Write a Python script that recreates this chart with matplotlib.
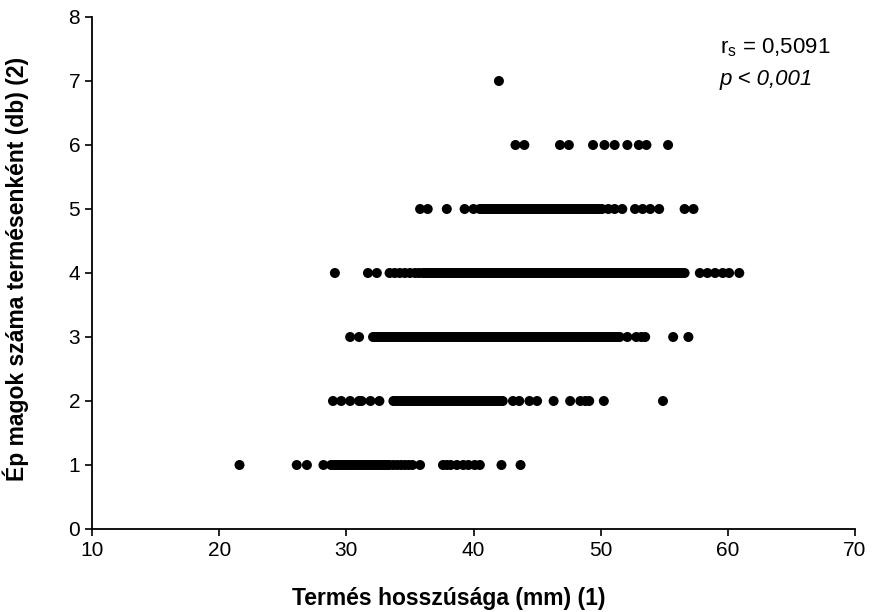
import matplotlib
matplotlib.use("Agg")
import matplotlib.pyplot as plt

plt.rcParams['font.family'] = ['Liberation Sans', 'DejaVu Sans']

# Fruit length (mm) for each count of intact seeds per fruit
x_seed1 = [21.6, 26.1, 26.9, 28.2, 28.8, 29.0, 29.2, 29.4, 29.6, 29.8, 30.0, 30.2,
           30.4, 30.6, 30.8, 31.0, 31.2, 31.4, 31.6, 31.8, 32.0, 32.2, 32.4, 32.6,
           32.8, 33.0, 33.2, 33.4, 33.7, 34.0, 34.3, 34.6, 34.9, 35.2, 35.8,
           37.6, 37.9, 38.2, 38.7, 39.2, 39.6, 40.1, 40.5, 42.2, 43.7]
x_seed2 = [28.95, 29.6, 30.3, 31.0, 31.2, 31.9, 32.6, 33.7, 33.9, 34.1, 34.3, 34.5,
           34.7, 34.9, 35.1, 35.3, 35.5, 35.7, 35.9, 36.1, 36.3, 36.5, 36.7, 36.9,
           37.1, 37.3, 37.5, 37.7, 37.9, 38.1, 38.3, 38.5, 38.7, 38.9, 39.1, 39.3,
           39.5, 39.7, 39.9, 40.1, 40.3, 40.5, 40.7, 40.9, 41.1, 41.3, 41.5, 41.7,
           41.9, 42.1, 42.3, 43.1, 43.6, 44.4, 45.0, 46.3, 47.6, 48.4, 48.8, 49.1,
           50.25, 54.9]
x_seed3 = [30.3, 31.0, 32.1, 32.3, 32.5, 32.7, 32.9, 33.1, 33.3, 33.5, 33.7, 33.9,
           34.1, 34.3, 34.5, 34.7, 34.9, 35.1, 35.3, 35.5, 35.7, 35.9, 36.1, 36.3,
           36.5, 36.7, 36.9, 37.1, 37.3, 37.5, 37.7, 37.9, 38.1, 38.3, 38.5, 38.7,
           38.9, 39.1, 39.3, 39.5, 39.7, 39.9, 40.1, 40.3, 40.5, 40.7, 40.9, 41.1,
           41.3, 41.5, 41.7, 41.9, 42.1, 42.3, 42.5, 42.7, 42.9, 43.1, 43.3, 43.5,
           43.7, 43.9, 44.1, 44.3, 44.5, 44.7, 44.9, 45.1, 45.3, 45.5, 45.7, 45.9,
           46.1, 46.3, 46.5, 46.7, 46.9, 47.1, 47.3, 47.5, 47.7, 47.9, 48.1, 48.3,
           48.5, 48.7, 48.9, 49.1, 49.3, 49.5, 49.7, 49.9, 50.1, 50.3, 50.5, 50.7,
           50.9, 51.1, 51.3, 51.5, 52.1, 52.8, 53.2, 53.5, 55.7, 56.9]
x_seed4 = [29.1, 31.7, 32.4, 33.4, 33.8, 34.2, 34.6, 35.0, 35.4, 35.7, 36.0, 36.2,
           36.4, 36.6, 36.8, 37.0, 37.2, 37.4, 37.6, 37.8, 38.0, 38.2, 38.4, 38.6,
           38.8, 39.0, 39.2, 39.4, 39.6, 39.8, 40.0, 40.2, 40.4, 40.6, 40.8, 41.0,
           41.2, 41.4, 41.6, 41.8, 42.0, 42.2, 42.4, 42.6, 42.8, 43.0, 43.2, 43.4,
           43.6, 43.8, 44.0, 44.2, 44.4, 44.6, 44.8, 45.0, 45.2, 45.4, 45.6, 45.8,
           46.0, 46.2, 46.4, 46.6, 46.8, 47.0, 47.2, 47.4, 47.6, 47.8, 48.0, 48.2,
           48.4, 48.6, 48.8, 49.0, 49.2, 49.4, 49.6, 49.8, 50.0, 50.2, 50.4, 50.6,
           50.8, 51.0, 51.2, 51.4, 51.6, 51.8, 52.0, 52.2, 52.4, 52.6, 52.8, 53.0,
           53.2, 53.4, 53.6, 53.8, 54.0, 54.2, 54.4, 54.6, 54.8, 55.0, 55.2, 55.4,
           55.6, 55.8, 56.0, 56.2, 56.4, 56.6, 57.8, 58.4, 59.0, 59.6, 60.1, 60.9]
x_seed5 = [35.8, 36.4, 37.9, 39.3, 40.0, 40.5, 40.7, 40.9, 41.1, 41.3, 41.5, 41.7,
           41.9, 42.1, 42.3, 42.5, 42.7, 42.9, 43.1, 43.3, 43.5, 43.7, 43.9, 44.1,
           44.3, 44.5, 44.7, 44.9, 45.1, 45.3, 45.5, 45.7, 45.9, 46.1, 46.3, 46.5,
           46.7, 46.9, 47.1, 47.3, 47.5, 47.7, 47.9, 48.1, 48.3, 48.5, 48.7, 48.9,
           49.1, 49.3, 49.5, 49.7, 49.9, 50.1, 50.6, 51.1, 51.7, 52.7, 53.3, 53.9,
           54.6, 56.6, 57.3]
x_seed6 = [43.3, 44.0, 46.8, 47.5, 49.4, 50.3, 51.1, 52.1, 53.0, 53.6, 55.3]
x_seed7 = [42.0]

seed_counts = [1, 2, 3, 4, 5, 6, 7]
x_groups = [x_seed1, x_seed2, x_seed3, x_seed4, x_seed5, x_seed6, x_seed7]

x_ticks = [10, 20, 30, 40, 50, 60, 70]
y_ticks = [0, 1, 2, 3, 4, 5, 6, 7, 8]

fig = plt.figure(figsize=(8.72, 6.12), dpi=100)
ax = fig.add_axes([92 / 872, 1 - 529 / 612, (855 - 92) / 872, (529 - 17) / 612])

for n, xs in zip(seed_counts, x_groups):
    ax.scatter(xs, [n] * len(xs), s=52, color='black', edgecolors='none', zorder=3)

ax.set_xlim(10, 70)
ax.set_ylim(0, 8)
ax.set_xticks(x_ticks)
ax.set_yticks(y_ticks)
ax.tick_params(axis='both', labelsize=15, direction='out', length=5, width=1.2,
               color='black', labelcolor='black')
for side in ['top', 'right']:
    ax.spines[side].set_visible(False)
for side in ['left', 'bottom']:
    ax.spines[side].set_linewidth(1.3)
    ax.spines[side].set_color('black')

ax.set_xlabel('Termés hosszúsága (mm) (1)', fontsize=16.5, fontweight='bold')
ax.set_ylabel('Ép magok száma termésenként (db) (2)', fontsize=16.5, fontweight='bold')
ax.xaxis.set_label_coords(0.468, -0.113)
ax.yaxis.set_label_coords(-0.083, 0.508)

ax.text(0.823, 0.941, r'r$_\mathregular{s}$ = 0,5091', transform=ax.transAxes,
        fontsize=16, ha='left', va='center')
ax.text(0.823, 0.877, 'p < 0,001', transform=ax.transAxes, fontsize=16,
        ha='left', va='center', style='italic')

fig.savefig('out.png', dpi=100)
